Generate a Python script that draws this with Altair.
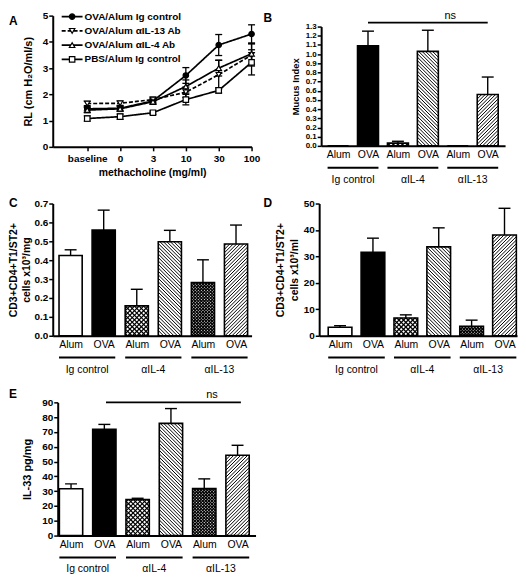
import json
import altair as alt
import pandas as pd

FONT = "Liberation Sans"

# ---------------- Panel A data ----------------
doses = ["baseline", "0", "3", "10", "30", "100"]
series_names = ["OVA/Alum Ig control", "OVA/Alum αIL-13 Ab", "OVA/Alum αIL-4 Ab", "PBS/Alum Ig control"]
rl_ova_ig = [1.45, 1.47, 1.75, 2.72, 3.88, 4.30]
rl_ova_ig_err = [0.08, 0.08, 0.10, 0.30, 0.40, 0.35]
rl_il13 = [1.65, 1.66, 1.80, 2.08, 2.75, 3.50]
rl_il13_err = [0.08, 0.08, 0.10, 0.20, 0.55, 0.42]
rl_il4 = [1.40, 1.45, 1.72, 2.30, 3.00, 3.55]
rl_il4_err = [0.10, 0.10, 0.10, 0.25, 0.30, 0.40]
rl_pbs = [1.08, 1.15, 1.30, 1.80, 2.15, 3.22]
rl_pbs_err = [0.10, 0.10, 0.06, 0.20, 0.10, 0.48]
series_shapes = ["circle", "triangle-down", "triangle-up", "square"]
series_fills = ["black", "white", "white", "white"]

# ---------------- Bar panels data ----------------
bar_labels = ["Alum", "OVA"]
group_names = ["Ig control", "αIL-4", "αIL-13"]
bar_kinds = ["open", "solid", "cross", "back", "checker", "fwd"]
bar_fills = ["white", "black", "white", "white", "white", "white"]
mucus_index = [0.0, 1.09, 0.03, 1.03, 0.0, 0.56]
mucus_index_err = [0.0, 0.16, 0.02, 0.23, 0.0, 0.19]
cells_mg = [0.425, 0.56, 0.158, 0.498, 0.282, 0.486]
cells_mg_err = [0.03, 0.105, 0.088, 0.060, 0.120, 0.100]
cells_ml = [3.2, 31.6, 6.7, 33.6, 3.6, 38.1]
cells_ml_err = [0.6, 5.3, 1.2, 7.2, 2.3, 10.1]
il33 = [31.6, 71.8, 24.3, 75.8, 31.8, 54.3]
il33_err = [3.3, 3.3, 0.9, 10.0, 6.5, 6.7]


def letter(ch, dx, dy):
    return alt.Chart(pd.DataFrame({"t": [ch]})).mark_text(
        align="left", baseline="top", fontSize=12, fontWeight="bold", font=FONT
    ).encode(text="t:N", x=alt.value(dx), y=alt.value(dy))


def y_axis(title, values, fmt, label_size=10, title_size=10.5, offset=0, title_pad=3, line_h=14):
    return alt.Axis(title=title, values=values, format=fmt, domainWidth=2, tickWidth=1.5,
                    tickSize=4, labelFontSize=label_size, labelFontWeight="bold",
                    titleFontSize=title_size, titleFontWeight="bold", labelPadding=1,
                    titlePadding=title_pad, titleLineHeight=line_h, grid=False,
                    labelOverlap=False, labelFlush=False, offset=offset)


# ---------------- Panel A ----------------
recs = []
for s, shp, fc, vals, errs in zip(series_names, series_shapes, series_fills,
                                  [rl_ova_ig, rl_il13, rl_il4, rl_pbs],
                                  [rl_ova_ig_err, rl_il13_err, rl_il4_err, rl_pbs_err]):
    for i, (v, e) in enumerate(zip(vals, errs)):
        recs.append(dict(series=s, shp=shp, fc=fc, xi=i, v=v, lo=v - e, hi=v + e))
dfA = pd.DataFrame(recs)

WA, HA = 200, 132
xsA = alt.Scale(domain=[-1.05, 5], nice=False, zero=False)
xaxA = alt.Axis(values=list(range(6)), labelExpr=f"{json.dumps(doses)}[datum.value]",
                title="methacholine (mg/ml)", grid=False, tickSize=4, tickWidth=1.5, domainWidth=2,
                labelFontSize=10, labelFontWeight="bold", titleFontSize=10.5, titleFontWeight="bold",
                labelPadding=3, titlePadding=4, labelFlush=False, labelOverlap=False)
ysA = alt.Scale(domain=[0, 5], nice=False)
yaxA = y_axis("RL (cm H₂O/ml/s)", [0, 1, 2, 3, 4, 5], "d", 10, 11, title_pad=9)


def XA(f):
    return alt.X(f, type="quantitative", scale=xsA, axis=xaxA)


def YA(f):
    return alt.Y(f, type="quantitative", scale=ysA, axis=yaxA)


dash_scale = alt.Scale(domain=series_names, range=[[1, 0], [4, 2], [1, 0], [1, 0]])

baseA = alt.Chart(dfA)
errA = baseA.mark_rule(color="black", strokeWidth=1.3).encode(x=XA("xi"), y=YA("lo"), y2="hi:Q")
capA = baseA.transform_fold(["lo", "hi"], as_=["k", "cv"]).mark_tick(
    orient="horizontal", size=7, thickness=1.3, color="black", opacity=1).encode(x=XA("xi"), y=YA("cv"))
lineA = baseA.mark_line(color="black", strokeWidth=1.7).encode(
    x=XA("xi"), y=YA("v"), detail="series:N",
    strokeDash=alt.StrokeDash("series:N", scale=dash_scale, legend=None))
ptA = baseA.mark_point(stroke="black", strokeWidth=1.2, opacity=1, size=30).encode(
    x=XA("xi"), y=YA("v"),
    shape=alt.Shape("shp:N", scale=None),
    fill=alt.Fill("fc:N", scale=None))
dataA = alt.layer(errA, capA, lineA, ptA)

dfL = pd.DataFrame({"series": series_names, "shp": series_shapes, "fc": series_fills})
legY = alt.Y("series:N", sort=series_names, scale=alt.Scale(type="point", range=[1, 44], padding=0), axis=None)
legBase = alt.Chart(dfL)
legRule = legBase.mark_rule(color="black", strokeWidth=1.7).encode(
    x=alt.value(9), x2=alt.value(30), y=legY,
    strokeDash=alt.StrokeDash("series:N", scale=dash_scale, legend=None))
legPt = legBase.mark_point(stroke="black", strokeWidth=1.2, opacity=1, size=30).encode(
    x=alt.value(19.5), y=legY,
    shape=alt.Shape("shp:N", scale=None),
    fill=alt.Fill("fc:N", scale=None))
legTxt = legBase.mark_text(align="left", baseline="middle", fontSize=10, fontWeight="bold",
                           font=FONT).encode(x=alt.value(32), y=legY, text="series:N")
legend = alt.layer(legRule, legPt, legTxt)

panelA = alt.layer(dataA, legend, letter("A", -44, 0)).resolve_scale(y="independent").properties(
    width=WA, height=HA)


# ---------------- bar panels ----------------
HATCH = {
    "back": [("b", 3.5, 1.0)],
    "fwd": [("f", 3.5, 1.0)],
    "cross": [("f", 4.6, 1.2), ("b", 4.6, 1.2)],
    "checker": [("f", 3.1, 1.2), ("b", 3.1, 1.2)],
}


def hatch_rows(vals, hw, xdom, pw, ph, ymax):
    sx = pw / (xdom[1] - xdom[0])
    sy = ph / ymax
    rows = []
    for i, (v, k) in enumerate(zip(vals, bar_kinds)):
        if k not in HATCH or v <= 0:
            continue
        bw = 2 * hw * sx
        bh = v * sy
        for d, per, sw in HATCH[k]:
            if d == "f":
                c = -bw + per / 2
                while c < bh:
                    x0, x1 = max(0, -c), min(bw, bh - c)
                    if x1 > x0:
                        rows.append(dict(hx=i - hw + x0 / sx, hy=(x0 + c) / sy,
                                         hx2=i - hw + x1 / sx, hy2=(x1 + c) / sy, sw=sw))
                    c += per
            else:
                c = per / 2
                while c < bw + bh:
                    x0, x1 = max(0, c - bh), min(bw, c)
                    if x1 > x0:
                        rows.append(dict(hx=i - hw + x0 / sx, hy=(c - x0) / sy,
                                         hx2=i - hw + x1 / sx, hy2=(c - x1) / sy, sw=sw))
                    c += per
    return pd.DataFrame(rows)


def bar_panel(vals, errs, W, H, xdom, ymax, yvals, yfmt, ytitle, let, ldx, ldy,
              hw=0.35, ylab=10, ytit=10.5, ns=None, xr=None, yr=None, title_pad=3):
    xr = xr or [0, W]
    yr = yr or [H, 0]
    df = pd.DataFrame({"pos": list(range(6)), "v": vals, "e": errs, "kind": bar_kinds, "fc": bar_fills})
    df["l"] = df.pos - hw
    df["r"] = df.pos + hw
    df["z"] = 0.0
    df["top"] = df.v + df.e
    xs = alt.Scale(domain=xdom, nice=False, zero=False, range=xr)
    xax = alt.Axis(values=list(range(6)), labelExpr=f"{json.dumps(bar_labels)}[datum.value % 2]",
                   ticks=False, title=None, grid=False, labelFontSize=10.5, labelFontWeight="normal",
                   labelPadding=4, domainWidth=2, labelFlush=False, labelOverlap=False)
    ys = alt.Scale(domain=[0, ymax], nice=False, range=yr)
    yax = y_axis(ytitle, yvals, yfmt, ylab, ytit, offset=-xr[0], title_pad=title_pad)

    def X(f):
        return alt.X(f, type="quantitative", scale=xs, axis=xax)

    def Y(f):
        return alt.Y(f, type="quantitative", scale=ys, axis=yax)

    base = alt.Chart(df)
    fills = base.mark_bar(strokeWidth=0).encode(
        x=X("l"), x2="r:Q", y=Y("v"), y2="z:Q", fill=alt.Fill("fc:N", scale=None))
    hd = hatch_rows(vals, hw, xdom, xr[1] - xr[0], yr[0] - yr[1], ymax)
    hatch = alt.Chart(hd).mark_rule(color="black").encode(
        x=X("hx"), y=Y("hy"), x2="hx2:Q", y2="hy2:Q", strokeWidth=alt.StrokeWidth("sw:Q", scale=None))
    outline = base.mark_bar(fillOpacity=0, stroke="black", strokeWidth=1.6).encode(
        x=X("l"), x2="r:Q", y=Y("v"), y2="z:Q")
    eb = base.transform_filter("datum.e > 0")
    erule = eb.mark_rule(color="black", strokeWidth=1.4).encode(x=X("pos"), y=Y("v"), y2="top:Q")
    ecap = eb.mark_tick(orient="horizontal", size=12, thickness=1.4, color="black", opacity=1).encode(
        x=X("pos"), y=Y("top"))

    dfG = pd.DataFrame({"g": group_names, "c": [0.5, 2.5, 4.5],
                        "gl": [-hw, 2 - hw, 4 - hw], "gr": [1 + hw, 3 + hw, 5 + hw]})
    gb = alt.Chart(dfG)
    grule = gb.mark_rule(color="black", strokeWidth=2).encode(x=X("gl"), x2="gr:Q", y=alt.value(H + 22))
    gtext = gb.mark_text(fontSize=10.5, font=FONT, baseline="middle").encode(
        x=X("c"), y=alt.value(H + 34), text="g:N")
    layers = [fills, hatch, outline, erule, ecap, grule, gtext, letter(let, ldx, ldy)]
    if ns is not None:
        x1, x2, xt, ly, ty = ns
        dfN = pd.DataFrame({"a": [x1], "b": [x2], "t": ["ns"], "xt": [xt]})
        nb = alt.Chart(dfN)
        layers.append(nb.mark_rule(color="black", strokeWidth=1.6).encode(
            x=X("a"), x2="b:Q", y=alt.value(ly)))
        layers.append(nb.mark_text(fontSize=11, font=FONT, baseline="middle").encode(
            x=X("xt"), y=alt.value(ty), text="t:N"))
    return alt.layer(*layers).properties(width=W, height=H)


panelB = bar_panel(mucus_index, mucus_index_err, 187, 131, [-0.565, 5.58], 1.3,
                   [round(i * 0.1, 1) for i in range(14)], ".1f", "Mucus Index", "B", -56, -3,
                   hw=0.35, ylab=8, ytit=9.5, ns=(1, 5, 3.75, 7, 0.5), xr=[2, 187], yr=[131, 11],
                   title_pad=5)
panelC = bar_panel(cells_mg, cells_mg_err, 200, 133, [-0.54, 5.47], 0.7,
                   [round(i * 0.1, 1) for i in range(8)], ".1f",
                   ["CD3+CD4+T1/ST2+", "cells x10³/mg"], "C", -44, -6, hw=0.35, ylab=10, ytit=10.5,
                   title_pad=2)
panelD = bar_panel(cells_ml, cells_ml_err, 199, 133, [-0.635, 5.38], 50,
                   [0, 10, 20, 30, 40, 50], "d",
                   ["CD3+CD4+T1/ST2+", "cells x10³/ml"], "D", -56, -6, hw=0.36, ylab=10, ytit=10.5,
                   title_pad=4)
panelE = bar_panel(il33, il33_err, 204, 144, [-0.40, 5.54], 90,
                   list(range(0, 91, 10)), "d", "IL-33 pg/mg", "E", -44, -3,
                   hw=0.35, ylab=10, ytit=11, ns=(1.05, 5.1, 4.23, 10, 3),
                   xr=[5, 204], yr=[144, 10], title_pad=9)

chart = alt.concat(
    panelA, panelB, panelC, panelD, panelE, columns=2,
    spacing={"row": 57, "column": 64}, bounds="flush"
).properties(padding=0).configure_view(stroke=None).configure_axis(
    domainColor="black", tickColor="black", labelColor="black", titleColor="black",
    labelFont=FONT, titleFont=FONT, grid=False
).configure_text(font=FONT, color="black")

chart.save("out.html", embed_options={"renderer": "svg", "actions": False})
